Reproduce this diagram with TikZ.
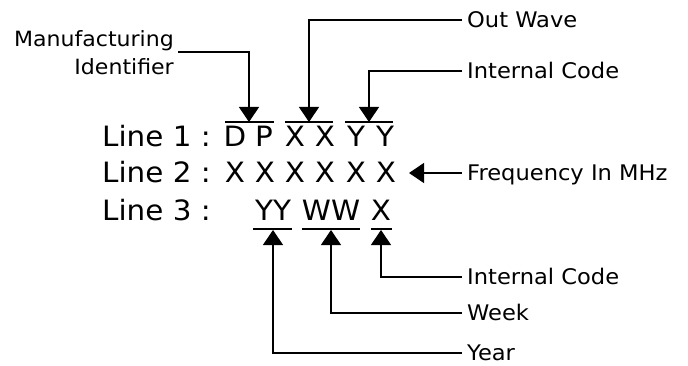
\documentclass[tikz,border=0pt]{standalone}
\usepackage{fontspec}
\setmainfont{DejaVu Sans}
\newfontfamily\widefont[FakeStretch=1.05]{DejaVu Sans}
\usetikzlibrary{arrows.meta}
\tikzset{
  conn/.style={line width=1.2pt, draw=black},
  tipped/.style={conn, -{Triangle[width=20pt,length=15pt]}},
  bar/.style={line width=1.2pt},
  big/.style={font=\widefont\fontsize{28}{30}\selectfont, inner sep=0pt, anchor=base},
  lbl/.style={font=\widefont\fontsize{21.5}{23}\selectfont, anchor=west, inner xsep=5pt, inner ysep=0pt, text height=15.6pt, text depth=0pt},
  mlbl/.style={font=\widefont\fontsize{21}{23}\selectfont, anchor=base east, inner sep=0pt}
}
\begin{document}
\begin{tikzpicture}[x=1pt,y=-1pt]
\useasboundingbox (0,0) rectangle (688,366);
% main lines
\node[big, anchor=base west] (line1) at (102,147) {Line 1 :};
\node[big, anchor=base west] (line2) at (102,183) {Line 2 :};
\node[big, anchor=base west] (line3) at (102,221) {Line 3 :};
% line 1 characters
\node[big] (c11) at (235,147) {D};
\node[big] (c12) at (264,147) {P};
\node[big] (c13) at (295,147) {X};
\node[big] (c14) at (325,147) {X};
\node[big] (c15) at (356,147) {Y};
\node[big] (c16) at (385,147) {Y};
% line 2 characters
\node[big] (c21) at (235,183) {X};
\node[big] (c22) at (265,183) {X};
\node[big] (c23) at (295,183) {X};
\node[big] (c24) at (325,183) {X};
\node[big] (c25) at (356,183) {X};
\node[big] (c26) at (386,183) {X};
% line 3 groups
\node[big] (yy) at (273,221) {YY};
\node[big] (ww) at (331,221) {WW};
\node[big] (x3) at (381,221) {X};
% over/underlines
\draw[bar] (225,122) -- (274,122);
\draw[bar] (285,122) -- (333,122);
\draw[bar] (345,122) -- (393,122);
\draw[bar] (253,229) -- (292,229);
\draw[bar] (302,229) -- (360,229);
\draw[bar] (371,229) -- (392,229);
% tip coordinates
\coordinate (t1) at (249,122);
\coordinate (t2) at (309,122);
\coordinate (t3) at (369,122);
\coordinate (b1) at (273,230);
\coordinate (b2) at (331,230);
\coordinate (b3) at (381,230);
\coordinate (tf) at (409,173);
\coordinate (m1) at (178,52);
% labels
\node[mlbl] (mfg) at (174,47) {Manufacturing};
\node[mlbl] (ident) at (174,75) {Identifier};
\node[lbl] (ow) at (462,20) {Out Wave};
\node[lbl] (ic1) at (462,71) {Internal Code};
\node[lbl] (fq) at (462,173) {Frequency In MHz};
\node[lbl] (ic2) at (462,277) {Internal Code};
\node[lbl] (wk) at (462,313) {Week};
\node[lbl] (yr) at (462,353) {Year};
% connectors
\draw[tipped] (m1) -| (t1);
\draw[tipped] (ow.west) -| (t2);
\draw[tipped] (ic1.west) -| (t3);
\draw[tipped] (fq.west) -- (tf);
\draw[tipped] (ic2.west) -| (b3);
\draw[tipped] (wk.west) -| (b2);
\draw[tipped] (yr.west) -| (b1);
\end{tikzpicture}
\end{document}
